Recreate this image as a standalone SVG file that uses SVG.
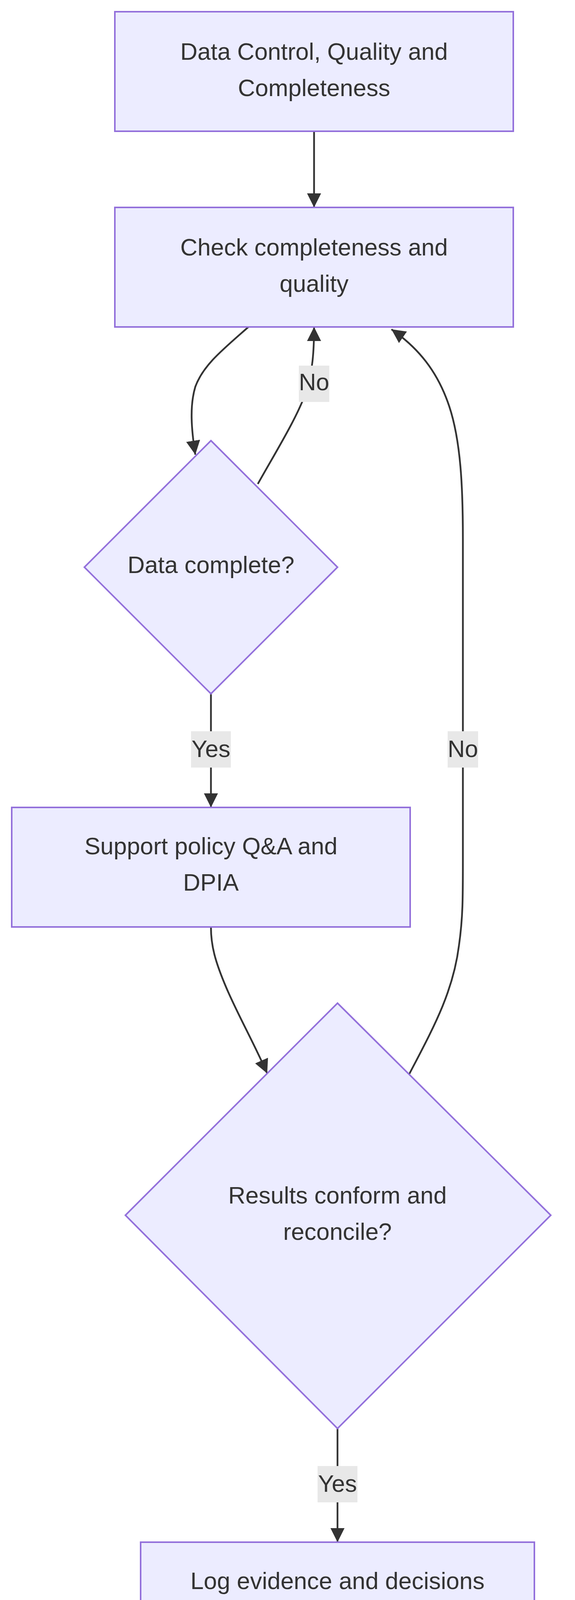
<svg xmlns="http://www.w3.org/2000/svg" width="1472" height="4700" viewBox="0 0 1472 4700">
<style>
.n{fill:#ECECFF;stroke:#9370DB;stroke-width:4}
.t{font-family:"Liberation Sans",Arial,sans-serif;font-size:61px;fill:#333;text-anchor:middle;dominant-baseline:central}
.e{fill:none;stroke:#333;stroke-width:4.5}
.lb{fill:#e8e8e8}
</style>
<defs>
<marker id="a" viewBox="0 0 10 10" refX="10" refY="5" markerWidth="36" markerHeight="36" markerUnits="userSpaceOnUse" orient="auto"><path d="M0,0L10,5L0,10z" fill="#333"/></marker>
</defs>
<rect width="1472" height="4700" fill="#fff"/>
<g id="edges">
<path class="e" marker-end="url(#a)" d="M804,336L804,531"/>
<path class="e" marker-end="url(#a)" d="M636,837C570,895 520,935 500,990C485,1040 490,1100 500,1164"/>
<path class="e" marker-end="url(#a)" d="M660,1239C710,1150 760,1070 785,1000C800,950 804,900 804,837"/>
<path class="e" marker-end="url(#a)" d="M540,1776L540,2067"/>
<path class="e" marker-end="url(#a)" d="M540,2373C540,2420 550,2460 580,2530C610,2600 650,2670 684,2748"/>
<path class="e" marker-end="url(#a)" d="M1047,2751C1110,2630 1160,2540 1175,2420C1185,2350 1185,2300 1185,2200L1185,1380C1185,1250 1180,1130 1150,1040C1120,950 1070,890 1002,843"/>
<path class="e" marker-end="url(#a)" d="M864,3657L864,3948"/>
<path class="e" marker-end="url(#a)" d="M864,4158L864,4356"/>
<rect class="lb" x="765" y="936" width="78" height="93"/><text class="t" x="804" y="978">No</text>
<rect class="lb" x="489" y="1872" width="102" height="93"/><text class="t" x="540" y="1917">Yes</text>
<rect class="lb" x="1146" y="1872" width="78" height="93"/><text class="t" x="1185" y="1917">No</text>
<rect class="lb" x="813" y="3753" width="102" height="93"/><text class="t" x="864" y="3798">Yes</text>
</g>
<g id="n1"><rect class="n" x="294" y="30" width="1020" height="306"/><text class="t" x="804" y="132">Data Control, Quality and</text><text class="t" x="804" y="225">Completeness</text></g>
<g id="n2"><rect class="n" x="294" y="531" width="1020" height="306"/><text class="t" x="804" y="633">Check completeness and</text><text class="t" x="804" y="726">quality</text></g>
<g id="n3"><polygon class="n" points="540,1128 864,1452 540,1776 216,1452"/><text class="t" x="540" y="1446">Data complete?</text></g>
<g id="n4"><rect class="n" x="30" y="2067" width="1020" height="306"/><text class="t" x="540" y="2166">Support policy Q&amp;A and</text><text class="t" x="540" y="2259">DPIA</text></g>
<g id="n5"><polygon class="n" points="864,2568 1410,3111 864,3657 321,3111"/><text class="t" x="864" y="3060">Results conform and</text><text class="t" x="864" y="3153">reconcile?</text></g>
<g id="n6"><rect class="n" x="360" y="3948" width="1008" height="210"/><text class="t" x="864" y="4047">Log evidence and decisions</text></g>
<g id="n7"><rect class="n" x="354" y="4356" width="1017" height="210"/><text class="t" x="864" y="4455">Deliver checks and answers</text></g>
</svg>
